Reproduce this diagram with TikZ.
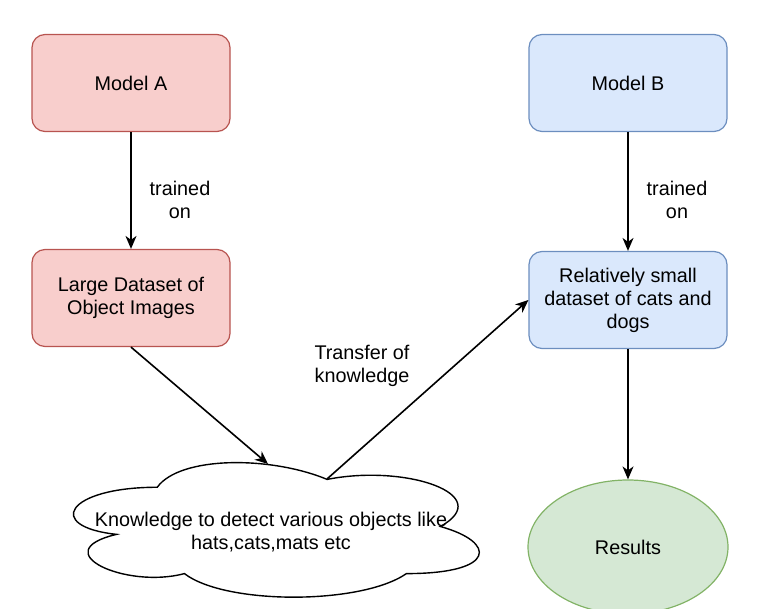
\documentclass[tikz,border=0pt]{standalone}
\usepackage{fontspec}
\setmainfont{Liberation Sans}
\usetikzlibrary{shapes.geometric,arrows.meta}

\definecolor{redfill}{HTML}{F8CECC}
\definecolor{redline}{HTML}{B85450}
\definecolor{bluefill}{HTML}{DAE8FC}
\definecolor{blueline}{HTML}{6C8EBF}
\definecolor{greenfill}{HTML}{D5E8D4}
\definecolor{greenline}{HTML}{82B366}

\begin{document}
\begin{tikzpicture}[x=1pt,y=-1pt,
  every node/.style={font=\fontsize{19.8}{23}\selectfont, align=center},
  box/.style={draw, rounded corners=13pt, line width=1.2pt, minimum width=198pt, minimum height=97pt},
  link/.style={draw, line width=1.6pt, -{Stealth[length=13pt,width=11pt,inset=4pt]}}]
\useasboundingbox (0,0) rectangle (779,608);
\clip (0,0) rectangle (779,608);

\node[box, fill=redfill, draw=redline] (a) at (131,83) {Model A};
\node[box, fill=redfill, draw=redline] (la) at (131,298) {Large Dataset of\\Object Images};
\node[box, fill=bluefill, draw=blueline] (b) at (628,83) {Model B};
\node[box, fill=bluefill, draw=blueline] (sm) at (628,300) {Relatively small\\dataset of cats and\\dogs};
\node[ellipse, draw=greenline, fill=greenfill, line width=1.2pt, minimum width=200pt, minimum height=134pt] (res) at (628,547) {Results};

% cloud
\begin{scope}[shift={(44,448)}, x=4.53pt, y=-1.57pt]
\draw[line width=1.4pt, fill=white] (25,25) .. controls (5,25) and (0,50) .. (16,55)
  .. controls (0,66) and (18,90) .. (31,80)
  .. controls (40,100) and (70,100) .. (80,80)
  .. controls (100,80) and (100,60) .. (87.5,50)
  .. controls (100,30) and (80,10) .. (62.5,20)
  .. controls (50,5) and (30,5) .. (25,25) -- cycle;
\end{scope}
\node (k) at (271,532) {Knowledge to detect various objects like\\hats,cats,mats etc};
\coordinate (ktop) at (268,464);
\coordinate (kdip) at (327,479);

\path[link] (a) -- (la);
\node (t1) at (180,200) {trained\\on};
\path[link] (b) -- (sm);
\node (t2) at (677,200) {trained\\on};

\path[link] (la.south) -- (ktop);
\path[link] (kdip) -- (sm.west);
\node (tr) at (362,366) {Transfer of\\knowledge};

\path[link] (sm) -- (res);
\end{tikzpicture}
\end{document}
